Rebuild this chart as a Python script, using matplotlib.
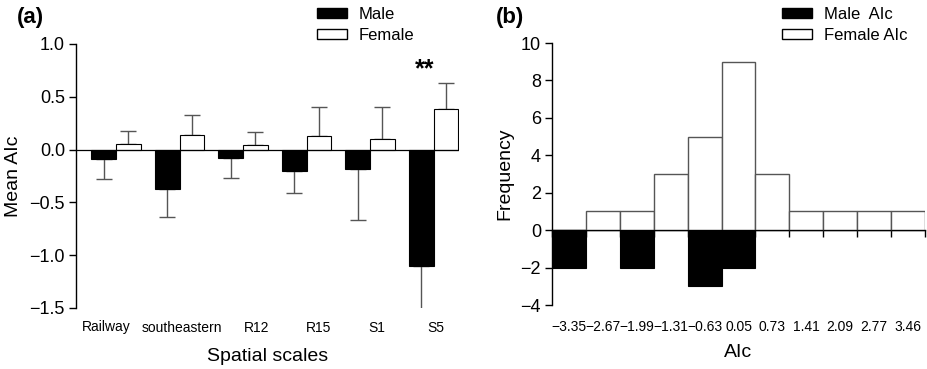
import numpy as np
import matplotlib
matplotlib.use('Agg')
import matplotlib.pyplot as plt
from matplotlib.patches import Patch

plt.rcParams['font.family'] = ['Liberation Sans', 'DejaVu Sans']

# panel (a) data
scales = ['Railway', 'southeastern', 'R12', 'R15', 'S1', 'S5']
male_mean = [-0.09, -0.37, -0.08, -0.20, -0.18, -1.10]
male_err = [0.19, 0.27, 0.19, 0.21, 0.49, 0.43]
female_mean = [0.05, 0.14, 0.04, 0.13, 0.10, 0.38]
female_err = [0.13, 0.19, 0.13, 0.27, 0.30, 0.25]

# panel (b) data
bin_labels = ['\u22123.35', '\u22122.67', '\u22121.99', '\u22121.31', '\u22120.63',
              '0.05', '0.73', '1.41', '2.09', '2.77', '3.46']
female_freq = [0, 1, 1, 3, 5, 9, 3, 1, 1, 1, 1]
male_freq = [-2, 0, -2, 0, -3, -2, 0, 0, 0, 0, 0]

fig = plt.figure(figsize=(9.28, 3.69), dpi=100)

### (a) ###
ax1 = fig.add_axes([76/928, 1-308/369, (459-76)/928, (308-44)/369])
x = np.arange(len(scales))
w = 0.39
ax1.bar(x - w/2, male_mean, w, color='black', edgecolor='black', linewidth=0.8, zorder=2)
ax1.bar(x + w/2, female_mean, w, color='white', edgecolor='black', linewidth=0.8, zorder=2)
ax1.errorbar(x - w/2, male_mean, yerr=[male_err, np.zeros(len(x))], fmt='none',
             ecolor='#555555', elinewidth=1, capsize=6, capthick=1, zorder=1)
ax1.errorbar(x + w/2, female_mean, yerr=[np.zeros(len(x)), female_err], fmt='none',
             ecolor='#555555', elinewidth=1, capsize=6, capthick=1, zorder=1)
ax1.axhline(0, color='black', linewidth=0.9, zorder=3)
ax1.set_xlim(-0.63, 5.4)
ax1.set_ylim(-1.5, 1.0)
ax1.set_yticks([1.0, 0.5, 0.0, -0.5, -1.0, -1.5])
ax1.set_yticklabels(['1.0', '0.5', '0.0', '\u22120.5', '\u22121.0', '\u22121.5'])
# labels in the original sit a little off the group centres
label_shift = [-0.16, 0.03, 0.22, 0.19, 0.11, 0.03]
ax1.set_xticks(x + np.array(label_shift))
ax1.set_xticklabels(scales)
ax1.tick_params(axis='x', length=0, pad=9, labelsize=10)
ax1.tick_params(axis='y', length=5, width=1, labelsize=13, direction='out', pad=3)
for s in ['top', 'right', 'bottom']:
    ax1.spines[s].set_visible(False)
ax1.spines['left'].set_linewidth(1)
ax1.set_ylabel('Mean AIc', fontsize=14, labelpad=5)
ax1.set_xlabel('Spatial scales', fontsize=14, labelpad=10)
ax1.text(5 - w/2 + 0.05, 0.76, '**', ha='center', va='center', fontsize=18,
         fontweight='bold')
handles = [Patch(facecolor='black', edgecolor='black'),
           Patch(facecolor='white', edgecolor='black')]
fig.legend(handles, ['Male', 'Female'], loc='upper left',
           bbox_to_anchor=(317/928, 1-7/369), frameon=False, fontsize=12,
           handlelength=1.8, handleheight=0.55, handletextpad=0.7,
           labelspacing=0.35, borderpad=0, borderaxespad=0)
fig.text(17/928, 1-17/369, '(a)', fontsize=16, fontweight='bold', va='center')

### (b) ###
ax2 = fig.add_axes([552/928, 1-305/369, (925-552)/928, (305-43)/369])
edges = np.arange(len(bin_labels) + 1)
centers = edges[:-1] + 0.5
ax2.bar(centers, female_freq, 1.0, color='white', edgecolor='#555555', linewidth=1, zorder=2)
ax2.bar(centers, male_freq, 1.0, color='black', edgecolor='black', linewidth=0.8, zorder=2)
ax2.set_xlim(edges[0], edges[-1])
ax2.set_ylim(-4, 10)
ax2.set_yticks([10, 8, 6, 4, 2, 0, -2, -4])
ax2.set_yticklabels(['10', '8', '6', '4', '2', '0', '\u22122', '\u22124'])
ax2.set_xticks(centers)
ax2.set_xticklabels(bin_labels)
ax2.tick_params(axis='x', length=0, pad=11, labelsize=10)
ax2.tick_params(axis='y', length=5, width=1, labelsize=13, direction='out', pad=3)
for s in ['top', 'right', 'bottom']:
    ax2.spines[s].set_visible(False)
ax2.spines['left'].set_linewidth(1)
zero_ax = ax2.secondary_xaxis(4/14)
zero_ax.set_xticks(edges)
zero_ax.set_xticklabels([])
zero_ax.tick_params(length=5, width=1, direction='out')
zero_ax.spines['bottom'].set_linewidth(1)
ax2.set_ylabel('Frequency', fontsize=14, labelpad=5)
ax2.set_xlabel('AIc', fontsize=14, labelpad=7)
fig.legend(handles, ['Male  AIc', 'Female AIc'], loc='upper left',
           bbox_to_anchor=(782/928, 1-7/369), frameon=False, fontsize=12,
           handlelength=1.8, handleheight=0.55, handletextpad=0.7,
           labelspacing=0.35, borderpad=0, borderaxespad=0)
fig.text(496/928, 1-17/369, '(b)', fontsize=16, fontweight='bold', va='center')

fig.savefig('out.png', dpi=100)
